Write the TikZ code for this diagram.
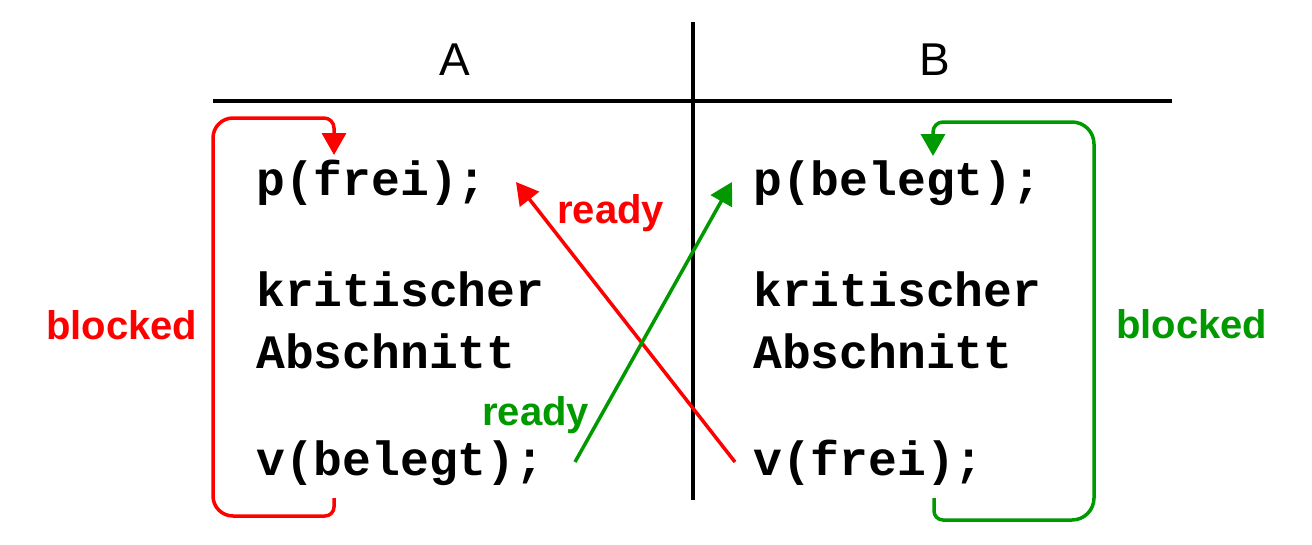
\documentclass[tikz,border=0pt]{standalone}
\usepackage{fontspec}
\setmainfont{Liberation Sans}
\newfontfamily\codefont{Liberation Mono}
\usetikzlibrary{arrows.meta}
\definecolor{myred}{RGB}{255,0,0}
\definecolor{mygreen}{RGB}{0,153,0}
\tikzset{
  code/.style={anchor=base west,inner sep=0pt,font=\codefont\bfseries\fontsize{48}{48}\selectfont},
  head/.style={anchor=base,inner sep=0pt,font=\fontsize{46}{46}\selectfont},
  lab/.style={anchor=base west,inner sep=0pt,font=\bfseries\fontsize{40}{40}\selectfont},
  rule/.style={line width=3.5pt},
  conn/.style={line width=3.5pt,-{Triangle[length=22pt,width=24pt]}},
}
\begin{document}
\begin{tikzpicture}[x=1pt,y=-1pt]
\useasboundingbox (0,0) rectangle (1312,544);
% table lines
\coordinate (hl) at (213,101);
\coordinate (hr) at (1172,101);
\coordinate (vt) at (693,22);
\coordinate (vb) at (693,500);
\draw[rule] (hl) -- (hr);
\draw[rule] (vt) -- (vb);
\node[head] (A) at (455,75) {A};
\node[head] (B) at (935,75) {B};
% code A
\node[code] (pA) at (256,195) {p(frei);};
\node[code] (kA) at (256,306) {kritischer};
\node[code] (aA) at (256,368) {Abschnitt};
\node[code] (vA) at (256,475) {v(belegt);};
% code B
\node[code] (pB) at (753,195) {p(belegt);};
\node[code] (kB) at (753,306) {kritischer};
\node[code] (aB) at (753,368) {Abschnitt};
\node[code] (vB) at (753,475) {v(frei);};
% labels
\node[lab,text=myred] (blA) at (46,339) {blocked};
\node[lab,text=mygreen] (blB) at (1116,338) {blocked};
\node[lab,text=myred] (rdR) at (557,223) {ready};
\node[lab,text=mygreen] (rdG) at (482,425) {ready};
% red loop
\coordinate (rs) at (334,498);
\coordinate (re) at (334,155);
\draw[conn,myred] (rs) [rounded corners=9pt] -- (334,516) [rounded corners=20pt] -- (213,516) -- (213,118) [rounded corners=10pt] -- (334,118) -- (re);
% green loop
\coordinate (gs) at (934,498);
\coordinate (ge) at (933,156);
\draw[conn,mygreen] (gs) [rounded corners=9pt] -- (934,520) [rounded corners=22pt] -- (1094,520) -- (1094,122) [rounded corners=10pt] -- (933,122) -- (ge);
% crossing arrows
\coordinate (rfrom) at (735,462);
\coordinate (rto) at (516,182);
\coordinate (gfrom) at (575,462);
\coordinate (gto) at (732,182);
\draw[conn,myred] (rfrom) -- (rto);
\draw[conn,mygreen] (gfrom) -- (gto);
\end{tikzpicture}
\end{document}
